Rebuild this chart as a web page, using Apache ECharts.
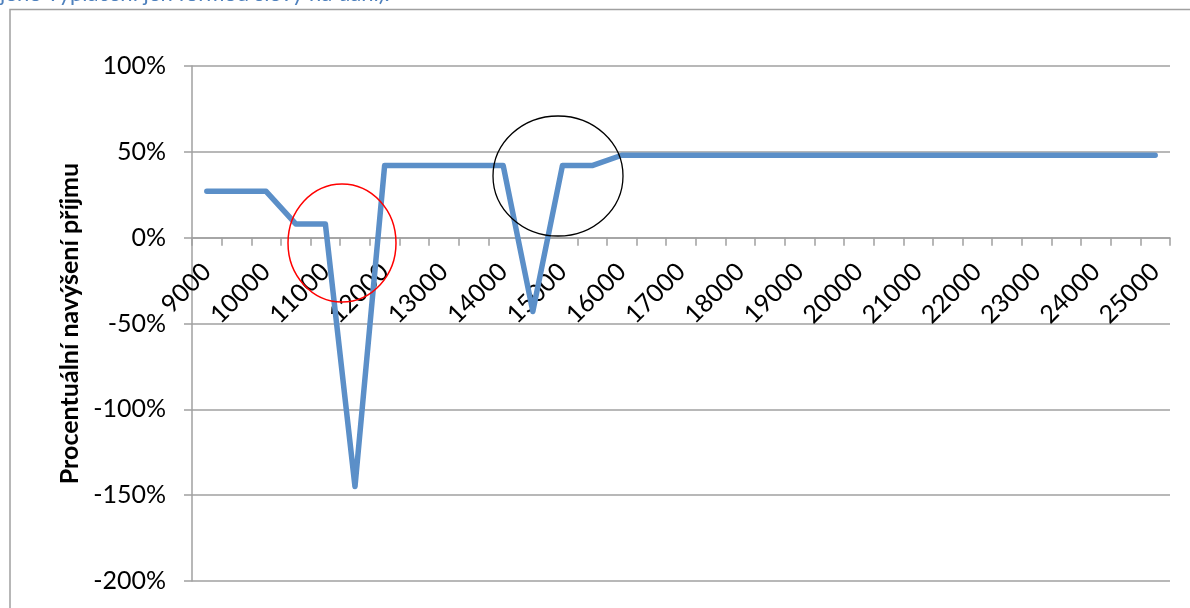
<!DOCTYPE html>
<html>
<head>
<meta charset="utf-8">
<script src="https://cdn.jsdelivr.net/npm/echarts@6/dist/echarts.min.js"></script>
<style>
html, body { margin: 0; padding: 0; background: #fff; }
#chart { width: 1190px; height: 608px; }
</style>
</head>
<body>
<div id="chart"></div>
<script>
// hrubá mzda (Kč)
var incomes = ['9000', '9500', '10000', '10500', '11000', '11500', '12000', '12500',
    '13000', '13500', '14000', '14500', '15000', '15500', '16000', '16500',
    '17000', '17500', '18000', '18500', '19000', '19500', '20000', '20500',
    '21000', '21500', '22000', '22500', '23000', '23500', '24000', '24500', '25000'];
// procentuální navýšení příjmu
var increase = [27, 27, 27, 8, 8, -145, 42, 42, 42, 42, 42, -43, 42, 42, 48, 48,
    48, 48, 48, 48, 48, 48, 48, 48, 48, 48, 48, 48, 48, 48, 48, 48, 48];
var yTicks = [-200, -150, -100, -50, 0, 50, 100];

var font = 'Lato, "Open Sans", sans-serif';
var gray = '#a0a0a0';

var gridTop = 66, gridBottom = 27;
var plotH = 608 - gridTop - gridBottom;
// x osa leží na nule -> posun od spodního okraje
var zeroOffset = -plotH * (0 - yTicks[0]) / (yTicks[yTicks.length - 1] - yTicks[0]);

var myChart = echarts.init(document.getElementById('chart'));
var option = {
    animation: false,
    textStyle: { fontFamily: font },
    grid: { left: 192, right: 20, top: gridTop, bottom: gridBottom, outerBoundsMode: 'none', containLabel: false },
    graphic: [
        {   // rámeček grafu
            type: 'rect',
            shape: { x: 10, y: 9.5, width: 1200, height: 620 },
            style: { fill: 'none', stroke: gray, lineWidth: 1.5 },
            silent: true
        },
        {   // text nad grafem (oříznutý)
            type: 'text',
            left: 0,
            top: -17,
            style: {
                text: 'jeho vyplacení jen formou slevy na dani).',
                fill: '#4f81bd',
                font: '22px ' + font
            },
            silent: true
        },
        {   // červená elipsa
            type: 'ellipse',
            shape: { cx: 342, cy: 243, rx: 54, ry: 59 },
            style: { fill: 'none', stroke: '#ff0000', lineWidth: 1.5 },
            z: 10,
            silent: true
        },
        {   // černá elipsa
            type: 'ellipse',
            shape: { cx: 558, cy: 176, rx: 65, ry: 60 },
            style: { fill: 'none', stroke: '#000000', lineWidth: 1.3 },
            z: 10,
            silent: true
        }
    ],
    xAxis: {
        type: 'category',
        data: incomes,
        boundaryGap: true,
        position: 'bottom',
        offset: zeroOffset,
        axisLine: { onZero: false, lineStyle: { color: gray, width: 1.5 } },
        axisTick: { show: true, interval: 0, length: 8, lineStyle: { color: gray, width: 1.5 } },
        axisLabel: {
            interval: 1,
            rotate: 45,
            margin: 30,
            color: '#000',
            fontSize: 25,
            fontFamily: font
        },
        splitLine: { show: false }
    },
    yAxis: {
        type: 'value',
        min: yTicks[0],
        max: yTicks[yTicks.length - 1],
        interval: 50,
        name: 'Procentuální navýšení příjmu',
        nameLocation: 'middle',
        nameGap: 102,
        nameTextStyle: { color: '#000', fontSize: 25, fontWeight: 'bold', fontFamily: font },
        axisLine: { show: true, lineStyle: { color: gray, width: 1.5 } },
        axisTick: { show: true, length: 8, lineStyle: { color: gray, width: 1.5 } },
        axisLabel: {
            formatter: '{value}%',
            margin: 26,
            color: '#000',
            fontSize: 25,
            fontFamily: font
        },
        splitLine: { show: true, lineStyle: { color: gray, width: 1.5 } }
    },
    series: [{
        type: 'line',
        data: increase,
        showSymbol: false,
        symbol: 'none',
        lineStyle: { color: '#5b8fc8', width: 5.5, cap: 'round', join: 'round' },
        itemStyle: { color: '#5b8fc8' }
    }]
};
myChart.setOption(option);
</script>
</body>
</html>
